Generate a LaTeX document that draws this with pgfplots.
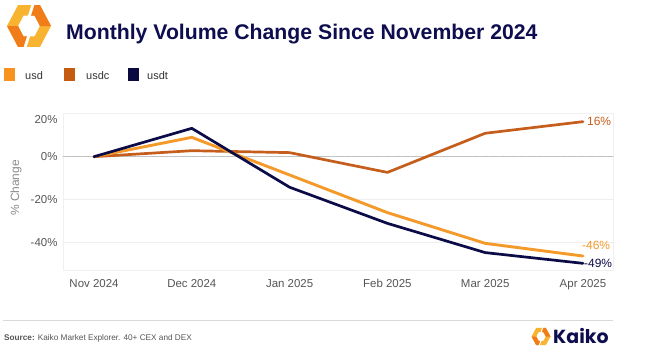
\documentclass[border=0pt]{standalone}
\usepackage{pgfplots}
\pgfplotsset{compat=1.18}
\usepackage{fontspec}
\setmainfont{Liberation Sans}
\newfontfamily\poppins{Poppins}
\definecolor{cusd}{HTML}{F39A2B}
\definecolor{cusdc}{HTML}{C55E1C}
\definecolor{cusdt}{HTML}{0B0B47}
\definecolor{lusd}{HTML}{F7931E}
\definecolor{lusdc}{HTML}{C55A11}
\definecolor{lusdt}{HTML}{0A0A40}
\definecolor{navy}{HTML}{0D0D4F}
\definecolor{tickgray}{HTML}{555555}
\definecolor{labgray}{HTML}{8A8A8A}
\definecolor{gridgray}{HTML}{EEEEEE}
\definecolor{framegray}{HTML}{F0F0F0}
\definecolor{zerogray}{HTML}{BBBBBB}
\definecolor{linegray}{HTML}{D9D9D9}
\definecolor{srcgray}{HTML}{555555}
\definecolor{lgold}{HTML}{F8B330}
\definecolor{lorange}{HTML}{F07D1A}
\tikzset{klogo/.pic={
  \fill[lgold] (0.1,0.87) -- (-0.5,0.87) -- (-1,0) -- (-0.5,-0.87) -- (-0.25,-0.87) -- (-0.1,-0.435) -- (-0.25,-0.435) -- (-0.5,0) -- (-0.25,0.435) -- (-0.05,0.435) -- cycle;
  \fill[lorange] (-1,0) -- (-0.5,-0.87) -- (-0.25,-0.87) -- (-0.1,-0.435) -- (-0.25,-0.435) -- (-0.5,0) -- cycle;
  \fill[lgold] (-0.1,-0.87) -- (0.5,-0.87) -- (1,0) -- (0.5,0.87) -- (0.25,0.87) -- (0.1,0.435) -- (0.25,0.435) -- (0.5,0) -- (0.25,-0.435) -- (0.05,-0.435) -- cycle;
  \fill[lorange] (1,0) -- (0.5,0.87) -- (0.25,0.87) -- (0.1,0.435) -- (0.25,0.435) -- (0.5,0) -- cycle;
}}
\begin{document}
\begin{tikzpicture}[x=1bp,y=1bp]
\path[use as bounding box] (0,0) rectangle (656,-359);
% logo
\pic[xscale=22,yscale=24] at (29,-26) {klogo};
% title
\node[anchor=base west, font=\bfseries\fontsize{21.3}{24}\selectfont, text=navy, inner sep=0] at (66,-39) {Monthly Volume Change Since November 2024};
% legend
\fill[lusd] (4,-68) rectangle (15,-81);
\node[anchor=base west, font=\fontsize{11}{13}\selectfont, text=black!80, inner sep=0] at (25,-79.5) {usd};
\fill[lusdc] (64,-68) rectangle (75,-81);
\node[anchor=base west, font=\fontsize{11}{13}\selectfont, text=black!80, inner sep=0] at (86,-79.5) {usdc};
\fill[lusdt] (128,-68) rectangle (139,-81);
\node[anchor=base west, font=\fontsize{11}{13}\selectfont, text=black!80, inner sep=0] at (147,-79.5) {usdt};
% y label
\node[rotate=90, font=\fontsize{12}{14}\selectfont, text=labgray] at (16,-188) {\% Change};
\begin{axis}[
  at={(63bp,-270bp)}, anchor=south west, scale only axis,
  width=550bp, height=156.3bp,
  xmin=-0.317, xmax=5.307, ymin=-52.7, ymax=20,
  xtick={0,1,2,3,4,5},
  xticklabels={Nov 2024, Dec 2024, Jan 2025, Feb 2025, Mar 2025, Apr 2025},
  ytick={-40,-20,0}, yticklabels={-40\%,-20\%,0\%},
  extra y ticks={20}, extra y tick labels={20\%},
  extra y tick style={grid=none, yticklabel style={yshift=-6bp}},
  major tick length=0pt, tick style={draw=none},
  ymajorgrids, grid style={draw=gridgray, line width=0.8bp},
  axis line style={draw=framegray, line width=0.8bp},
  tick label style={font=\fontsize{11.5}{13}\selectfont, text=tickgray},
  /pgf/number format/assume math mode=true,
  yticklabel style={xshift=-2bp},
  xticklabel style={yshift=-6bp},
  clip=false,
  line join=round, line cap=round,
]
\addplot[draw=zerogray, densely dotted, line width=0.8bp, forget plot] coordinates {(-0.317,0) (5.307,0)};
\addplot[draw=cusdc, line width=2.7bp] coordinates {(0,0) (1,2.8) (2,1.9) (3,-7.3) (4,10.9) (5,16.3)};
\addplot[draw=cusd, line width=2.9bp] coordinates {(0,0) (1,9) (2,-8.5) (3,-26) (4,-40.3) (5,-46.2)};
\addplot[draw=cusdt, line width=2.7bp] coordinates {(0,0) (1,13.2) (2,-14.2) (3,-31) (4,-44.6) (5,-49.6)};
\node[anchor=west, inner sep=0, text=cusdc, font=\fontsize{12}{14}\selectfont] at (axis cs:5,16.3) [xshift=4bp] {16\%};
\node[anchor=west, inner sep=0, text=cusd, font=\fontsize{12}{14}\selectfont] at (axis cs:5,-41.4) [xshift=-1bp] {-46\%};
\node[anchor=west, inner sep=0, text=cusdt, font=\fontsize{12}{14}\selectfont] at (axis cs:5,-49.6) [xshift=1bp] {-49\%};
\end{axis}
% footer
\draw[draw=linegray, line width=1.5bp] (3,-320.5) -- (613,-320.5);
\node[anchor=base west, font=\fontsize{8.25}{9}\selectfont, text=srcgray, inner sep=0] at (4,-340.5) {\textbf{Source:} Kaiko Market Explorer. 40+ CEX and DEX};
\pic[xscale=9.5,yscale=10] at (541,-336.5) {klogo};
\node[anchor=base west, font=\poppins\bfseries\fontsize{19}{20}\selectfont, text=navy, inner sep=0] at (553,-343) {Kaiko};
\end{tikzpicture}
\end{document}
